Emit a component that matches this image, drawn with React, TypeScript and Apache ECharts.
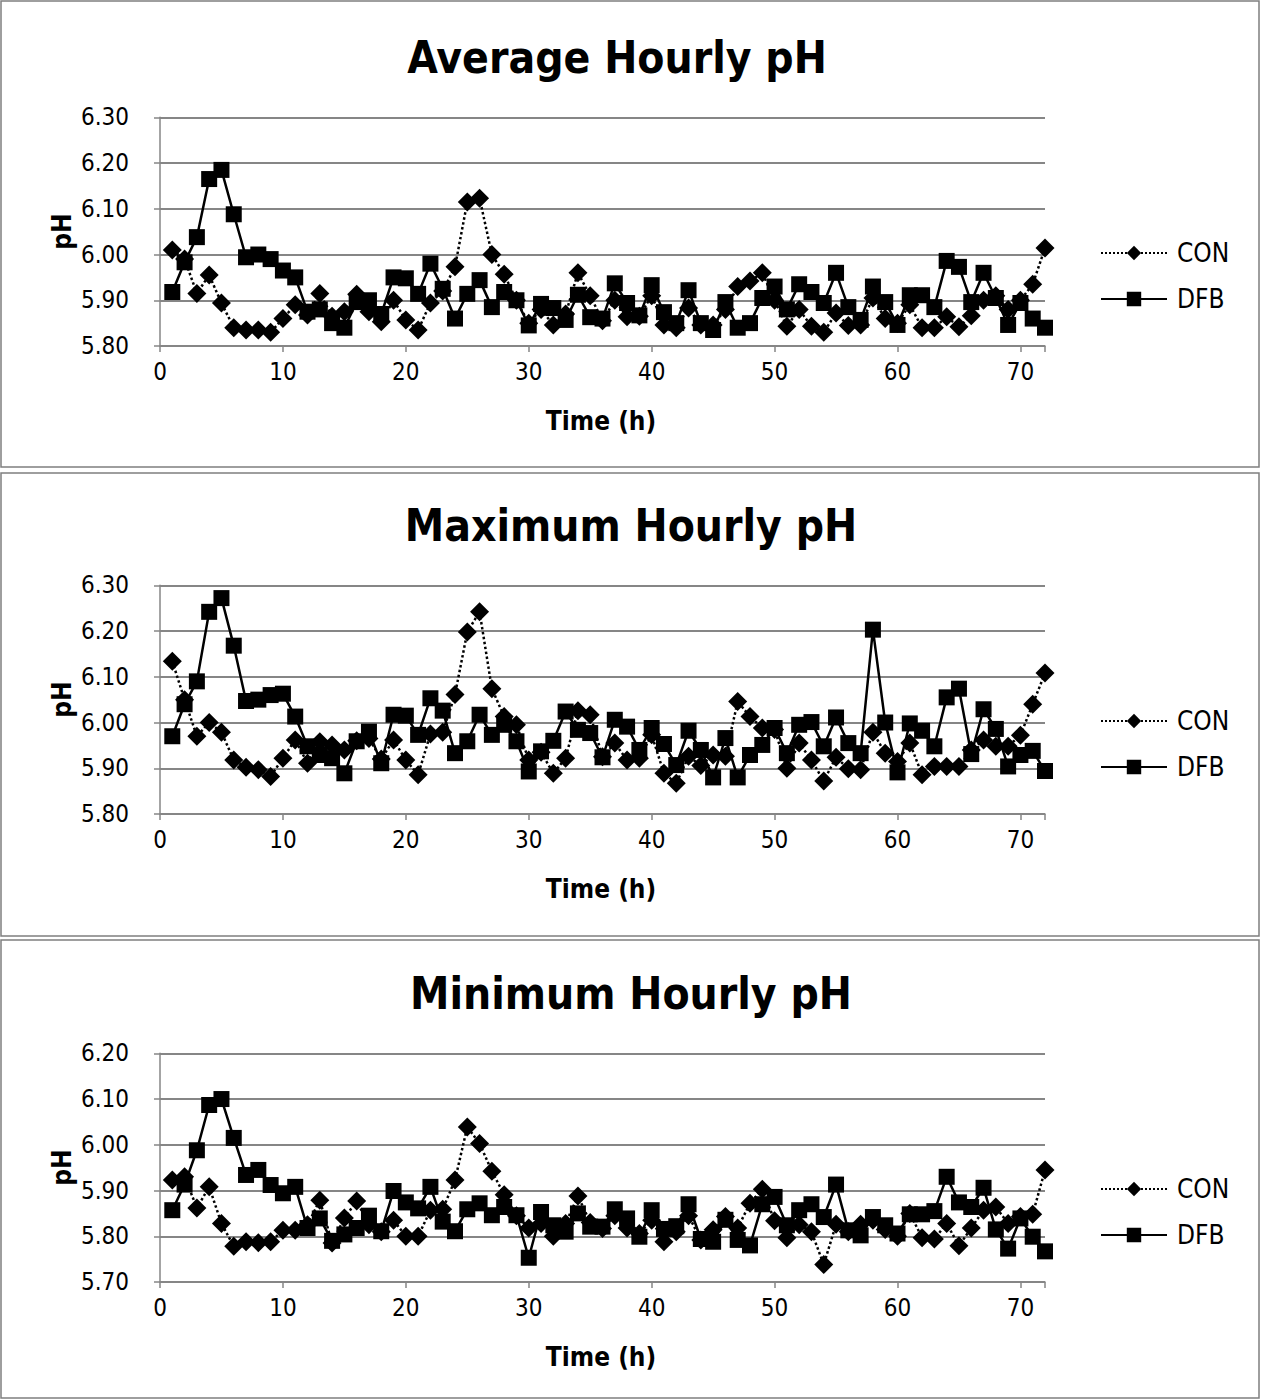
import React, { useEffect, useRef } from "react";
import * as echarts from "echarts";

const hours = [1,2,3,4,5,6,7,8,9,10,11,12,13,14,15,16,17,18,19,20,21,22,23,24,25,26,27,28,29,30,31,32,33,34,35,36,37,38,39,40,41,42,43,44,45,46,47,48,49,50,51,52,53,54,55,56,57,58,59,60,61,62,63,64,65,66,67,68,69,70,71,72];

const avgCON = [6.01,5.99,5.915,5.955,5.894,5.84,5.835,5.835,5.83,5.86,5.89,5.868,5.915,5.865,5.875,5.913,5.875,
  5.853,5.90,5.857,5.835,5.894,5.92,5.973,6.115,6.123,6.0,5.957,5.90,5.85,5.88,5.846,5.87,5.96,5.91,5.855,5.90,5.864,5.865,5.91,5.846,5.84,5.883,5.846,5.846,5.88,5.93,5.942,5.96,5.90,5.843,5.88,5.843,5.83,5.872,5.845,5.846,5.905,5.86,5.85,5.89,5.84,5.84,5.864,5.842,5.866,5.90,5.91,5.88,5.90,5.935,6.014];
const avgDFB = [5.918,5.983,6.038,6.165,6.185,6.088,5.994,6.0,5.99,5.965,5.95,5.875,5.88,5.85,5.84,5.896,5.90,
  5.87,5.95,5.948,5.914,5.98,5.925,5.86,5.914,5.944,5.885,5.918,5.90,5.845,5.892,5.883,5.857,5.912,5.863,5.86,5.937,5.894,5.867,5.933,5.874,5.85,5.922,5.85,5.835,5.896,5.84,5.85,5.905,5.93,5.88,5.935,5.918,5.894,5.96,5.885,5.857,5.93,5.896,5.846,5.911,5.911,5.885,5.986,5.973,5.896,5.96,5.905,5.846,5.894,5.86,5.84];

const maxCON = [6.134,6.05,5.97,6.0,5.979,5.918,5.902,5.897,5.882,5.922,5.962,5.911,5.958,5.951,5.94,5.96,5.965,
  5.92,5.962,5.918,5.886,5.975,5.979,6.061,6.198,6.242,6.074,6.013,5.995,5.918,5.935,5.889,5.922,6.026,6.017,5.925,5.955,5.918,5.922,5.973,5.889,5.867,5.926,5.906,5.929,5.926,6.046,6.013,5.988,5.985,5.90,5.955,5.918,5.872,5.924,5.899,5.897,5.979,5.933,5.915,5.955,5.886,5.904,5.904,5.904,5.94,5.962,5.948,5.948,5.972,6.04,6.108];
const maxDFB = [5.97,6.04,6.09,6.242,6.272,6.168,6.047,6.05,6.06,6.063,6.013,5.948,5.929,5.922,5.889,5.959,5.98,
  5.911,6.017,6.015,5.973,6.053,6.026,5.933,5.959,6.017,5.973,5.995,5.959,5.893,5.937,5.96,6.024,5.984,5.977,5.924,6.006,5.991,5.94,5.988,5.953,5.907,5.982,5.94,5.88,5.966,5.88,5.929,5.951,5.988,5.933,5.995,6.001,5.948,6.011,5.955,5.933,6.203,6.0,5.891,5.998,5.982,5.948,6.055,6.074,5.931,6.029,5.986,5.904,5.929,5.938,5.894];

const minCON = [5.923,5.93,5.862,5.908,5.828,5.778,5.788,5.786,5.788,5.813,5.813,5.825,5.879,5.785,5.84,5.877,5.825,
  5.81,5.835,5.80,5.80,5.857,5.859,5.923,6.039,6.003,5.942,5.891,5.845,5.818,5.828,5.80,5.828,5.888,5.83,5.817,5.845,5.818,5.806,5.835,5.788,5.81,5.845,5.792,5.814,5.843,5.818,5.872,5.903,5.834,5.797,5.825,5.81,5.738,5.826,5.81,5.826,5.835,5.815,5.80,5.85,5.797,5.794,5.828,5.779,5.818,5.857,5.864,5.828,5.843,5.848,5.945];
const minDFB = [5.857,5.913,5.988,6.087,6.10,6.015,5.934,5.945,5.912,5.894,5.908,5.818,5.839,5.79,5.804,5.818,5.845,
  5.811,5.899,5.874,5.861,5.908,5.832,5.811,5.859,5.872,5.846,5.864,5.846,5.753,5.853,5.824,5.81,5.85,5.821,5.821,5.859,5.839,5.799,5.857,5.816,5.822,5.87,5.794,5.788,5.836,5.792,5.78,5.87,5.886,5.824,5.857,5.87,5.842,5.913,5.813,5.802,5.842,5.824,5.806,5.848,5.848,5.855,5.93,5.874,5.864,5.906,5.815,5.773,5.839,5.799,5.767];

const titles = ["Average Hourly pH", "Maximum Hourly pH", "Minimum Hourly pH"];
const yMins = [5.8, 5.8, 5.7];
const yMaxs = [6.3, 6.3, 6.2];
const seriesNames = ["CON", "DFB"];
const xAxisName = "Time (h)";
const yAxisName = "pH";

const FONT = "'DejaVu Sans Condensed', 'DejaVu Sans', sans-serif";

const layout = [
  { panelY: 1, panelH: 466, gridTop: 117.3, titleX: 617, titleY: 57, legendTop: 235 },
  { panelY: 473, panelH: 463, gridTop: 585.3, titleX: 631, titleY: 525, legendTop: 703 },
  { panelY: 940, panelH: 458, gridTop: 1053.3, titleX: 631, titleY: 993, legendTop: 1171 },
];

export default function App() {
  const ref = useRef<HTMLDivElement>(null);
  useEffect(() => {
    if (!ref.current) return;
    const chart = echarts.init(ref.current, undefined, { renderer: "svg" });
    const data = [
      [avgCON, avgDFB],
      [maxCON, maxDFB],
      [minCON, minDFB],
    ];
    const GRID_H = 228.7;
    const graphic: any[] = [];
    layout.forEach((l, i) => {
      graphic.push({
        type: "rect",
        shape: { x: 1, y: l.panelY, width: 1258, height: l.panelH },
        style: { fill: "none", stroke: "#7f7f7f", lineWidth: 1.5 },
        silent: true,
      });
      graphic.push({
        type: "text",
        x: l.titleX,
        y: l.titleY,
        style: {
          text: titles[i],
          font: `bold 44px ${FONT}`,
          fill: "#000",
          textAlign: "center",
          textVerticalAlign: "middle",
          align: "center",
          verticalAlign: "middle",
        },
      });
      graphic.push({
        type: "text",
        x: 601,
        y: l.gridTop + GRID_H + 75,
        style: {
          text: xAxisName,
          font: `bold 26px ${FONT}`,
          fill: "#000",
          textAlign: "center",
          textVerticalAlign: "middle",
          align: "center",
          verticalAlign: "middle",
        },
      });
      graphic.push({
        type: "text",
        x: 62,
        y: l.gridTop + GRID_H / 2,
        rotation: Math.PI / 2,
        style: {
          text: yAxisName,
          font: `bold 26px ${FONT}`,
          fill: "#000",
          textAlign: "center",
          textVerticalAlign: "middle",
          align: "center",
          verticalAlign: "middle",
        },
      });
    });

    const option: any = {
      animation: false,
      backgroundColor: "#fff",
      textStyle: { fontFamily: FONT },
      grid: layout.map((l) => ({
        left: 160,
        right: 217,
        top: l.gridTop,
        height: GRID_H,
        containLabel: false,
      })),
      xAxis: layout.map((l, i) => ({
        type: "value",
        gridIndex: i,
        min: 0,
        max: 72,
        interval: 10,
        axisLine: { show: true, lineStyle: { color: "#868686", width: 1.5 } },
        axisTick: { show: true, length: 6, lineStyle: { color: "#868686", width: 1.5 } },
        axisLabel: {
          color: "#000",
          fontSize: 24,
          fontFamily: FONT,
          margin: 14,
          formatter: (v: number) => (v % 10 === 0 ? String(v) : ""),
        },
        splitLine: { show: false },
      })),
      yAxis: layout.map((l, i) => ({
        type: "value",
        gridIndex: i,
        min: yMins[i],
        max: yMaxs[i],
        interval: 0.1,
        axisLine: { show: true, lineStyle: { color: "#868686", width: 1.5 } },
        axisTick: { show: true, length: 6, lineStyle: { color: "#868686", width: 1.5 } },
        axisLabel: {
          color: "#000",
          fontSize: 24,
          fontFamily: FONT,
          margin: 31,
          formatter: (v: number) => v.toFixed(2),
        },
        splitLine: { show: true, lineStyle: { color: "#868686", width: 2 } },
      })),
      legend: layout.map((l) => ({
        orient: "vertical",
        left: 1095,
        top: l.legendTop,
        itemWidth: 66,
        itemHeight: 18,
        itemGap: 20,
        selectedMode: false,
        data: seriesNames,
        textStyle: { fontSize: 26, color: "#000", fontFamily: FONT, padding: [0, 0, 0, 5] },
      })),
      series: data.flatMap((pair, i) => [
        {
          type: "line",
          name: seriesNames[0],
          xAxisIndex: i,
          yAxisIndex: i,
          data: hours.map((h, j) => [h, pair[0][j]]),
          symbol: "diamond",
          symbolSize: 19,
          showSymbol: true,
          showAllSymbol: true,
          lineStyle: { type: "dotted", width: 2.5, color: "#000" },
          itemStyle: { color: "#000" },
          z: 2,
        },
        {
          type: "line",
          name: seriesNames[1],
          xAxisIndex: i,
          yAxisIndex: i,
          data: hours.map((h, j) => [h, pair[1][j]]),
          symbol: "rect",
          symbolSize: 16,
          showSymbol: true,
          showAllSymbol: true,
          lineStyle: { type: "solid", width: 2.5, color: "#000" },
          itemStyle: { color: "#000" },
          z: 3,
        },
      ]),
      graphic,
    };
    chart.setOption(option);
    return () => chart.dispose();
  }, []);
  return (
    <div
      ref={ref}
      style={{ position: "absolute", left: 0, top: 0, width: 1262, height: 1400, background: "#fff" }}
    />
  );
}
